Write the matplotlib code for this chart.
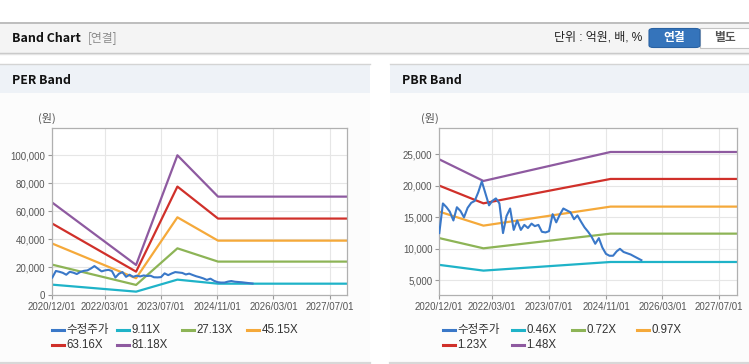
import numpy as np
import pandas as pd
import matplotlib
matplotlib.use('Agg')
import matplotlib.pyplot as plt
import matplotlib.dates as mdates
from matplotlib.patches import Rectangle, FancyBboxPatch
from matplotlib.lines import Line2D
from matplotlib.ticker import FuncFormatter

W, H = 749, 364
KR = ['Noto Sans CJK KR', 'DejaVu Sans']
NUM = ['Liberation Sans', 'DejaVu Sans']
MIX = ['Liberation Sans', 'Noto Sans CJK KR']

# 수정주가 (monthly, from 2020/12)
price_start = '2020-12-01'
price = [12500, 17200, 16600, 15900, 14500, 16600, 16000, 15000, 16500, 17300,
         17600, 19000, 20700, 18800, 16900, 17600, 18000, 17200, 12500, 15200,
         16400, 13000, 14500, 13000, 13800, 13300, 14000, 13600, 13800, 12700,
         12600, 12800, 15500, 14200, 15400, 16400, 16100, 15800, 14700, 15300,
         14300, 13400, 12700, 11900, 10800, 11700, 10200, 9200, 8900, 8900,
         9600, 10000, 9500, 9300, 9100, 8800, 8500, 8200]

# PER band
per_dates = ['2020-12-01', '2022-11-27', '2023-11-20', '2024-11-06', '2027-12-01']
per_labels = ['9.11X', '27.13X', '45.15X', '63.16X', '81.18X']
per_bands = [
    [7400, 2400, 11000, 8100, 8100],
    [21700, 7200, 33400, 23900, 23900],
    [36800, 12000, 55600, 38900, 38900],
    [51100, 16700, 77600, 54700, 54700],
    [66100, 21500, 100000, 70400, 70400],
]

# PBR band
pbr_dates = ['2020-12-01', '2021-12-15', '2024-12-10', '2027-12-01']
pbr_labels = ['0.46X', '0.72X', '0.97X', '1.23X', '1.48X']
pbr_bands = [
    [7450, 6540, 7910, 7910],
    [11700, 10080, 12410, 12410],
    [15900, 13680, 16700, 16700],
    [20030, 17220, 21090, 21090],
    [24200, 20770, 25370, 25370],
]

price_color = '#3a78c8'
band_colors = ['#1fb3c8', '#8db456', '#f5a93a', '#d0302a', '#8e5aa0']
tick_dates = ['2020-12-01', '2022-03-01', '2023-07-01', '2024-11-01', '2026-03-01', '2027-07-01']

fig = plt.figure(figsize=(W / 100, H / 100), dpi=100)
fig.patch.set_facecolor('white')


def rect(x0, y0, x1, y1, fc, ec='none', lw=0, z=0):
    r = Rectangle((x0 / W, 1 - y1 / H), (x1 - x0) / W, (y1 - y0) / H,
                  transform=fig.transFigure, facecolor=fc, edgecolor=ec, linewidth=lw, zorder=z)
    fig.add_artist(r)


def hline(x0, x1, y, color, lw=1.0):
    fig.add_artist(Line2D([x0 / W, x1 / W], [1 - y / H, 1 - y / H], transform=fig.transFigure,
                          color=color, linewidth=lw))


def text(x, y, s, **kw):
    fig.text(x / W, 1 - y / H, s, **kw)


# header bar
rect(0, 22, W, 53, '#f4f4f4')
hline(0, W, 22.5, '#b4b4b4', 1.2)
hline(0, W, 53, '#c4c4c4', 1.0)
hline(0, W, 54.2, '#e4e4e4', 1.0)
text(12, 38, 'Band Chart', family=KR, fontsize=8.9, fontweight='bold', color='#111111', va='center')
text(88, 38, '[연결]', family=KR, fontsize=8.5, color='#8a8a8a', va='center')
text(642, 38, '단위 : 억원, 배, %', family=MIX, fontsize=8.6, color='#222222', va='center', ha='right')
btn = FancyBboxPatch((649 / W, 1 - 47.5 / H), 51 / W, 19 / H, boxstyle='round,pad=0,rounding_size=0.006',
                     transform=fig.transFigure, facecolor='#3574bb', edgecolor='#2a62a3', linewidth=0.8)
fig.add_artist(btn)
rect(700, 28.5, W + 2, 47.5, 'white', ec='#c4c4c4', lw=0.8)
text(674.5, 38, '연결', family=KR, fontsize=8.5, fontweight='bold', color='white', va='center', ha='center')
text(725, 38, '별도', family=KR, fontsize=8.5, fontweight='bold', color='#555555', va='center', ha='center')


def panel(x0, x1, title, tx):
    rect(x0, 64, x1, 93, '#eef2f7')
    hline(x0, x1, 64.3, '#d4d4d4', 1.0)
    rect(x0, 93, x1, 362, '#fcfcfc')
    hline(x0, x1, 362.5, '#d8d8d8', 1.6)
    text(tx, 80.5, title, family=KR, fontsize=8.9, fontweight='bold', color='#111111', va='center')


panel(0, 370, 'PER Band', 12)
panel(390, W, 'PBR Band', 401.5)


def make_axes(left, right, top=128.3, bottom=295):
    ax = fig.add_axes([left / W, 1 - bottom / H, (right - left) / W, (bottom - top) / H])
    ax.set_facecolor('white')
    for s in ax.spines.values():
        s.set_color('#b0b0b0')
        s.set_linewidth(0.9)
    ax.grid(True, color='#e6e6e6', linewidth=0.8)
    ax.set_axisbelow(True)
    ax.tick_params(axis='both', length=3, width=0.8, color='#999999', labelsize=7,
                   labelcolor='#555555', pad=2)
    ax.set_xlim(pd.Timestamp('2020-12-01'), pd.Timestamp('2027-12-01'))
    ax.set_xticks(pd.to_datetime(tick_dates))
    ax.xaxis.set_major_formatter(mdates.DateFormatter('%Y/%m/%d'))
    ax.yaxis.set_major_formatter(FuncFormatter(lambda v, p: f'{int(v):,}'))
    return ax


price_dates = pd.date_range(price_start, periods=len(price), freq='MS')


def draw(ax, dates, bands, labels, leg_x):
    d = pd.to_datetime(dates)
    handles = [ax.plot(price_dates, price, color=price_color, linewidth=1.5, zorder=3)[0]]
    for vals, c in zip(bands, band_colors):
        handles.append(ax.plot(d, vals, color=c, linewidth=1.6, zorder=2)[0])
    names = ['수정주가'] + labels
    for i, (h, name) in enumerate(zip(handles, names)):
        col, row = i % 4, i // 4
        x = leg_x[col]
        y = 330 + row * 14.5
        fig.add_artist(Line2D([x / W, (x + 12) / W], [1 - y / H, 1 - y / H], transform=fig.transFigure,
                              color=h.get_color(), linewidth=2.2))
        text(x + 14.5, y, name, family=MIX, fontsize=8.3, color='#333333', va='center')
    for lab in ax.get_xticklabels() + ax.get_yticklabels():
        lab.set_family(NUM)


ax1 = make_axes(52.3, 347.3)
ax1.set_ylim(0, 119300)
ax1.set_yticks([0, 20000, 40000, 60000, 80000, 100000])
draw(ax1, per_dates, per_bands, per_labels, [52, 117, 182, 247])
text(47, 118, '(원)', family=KR, fontsize=8, color='#555555', va='center', ha='center')

ax2 = make_axes(439.3, 737)
ax2.set_ylim(2670, 29130)
ax2.set_yticks([5000, 10000, 15000, 20000, 25000])
draw(ax2, pbr_dates, pbr_bands, pbr_labels, [443, 512, 572, 637])
text(430, 118, '(원)', family=KR, fontsize=8, color='#555555', va='center', ha='center')

fig.savefig('out.png', dpi=100, facecolor='white')
